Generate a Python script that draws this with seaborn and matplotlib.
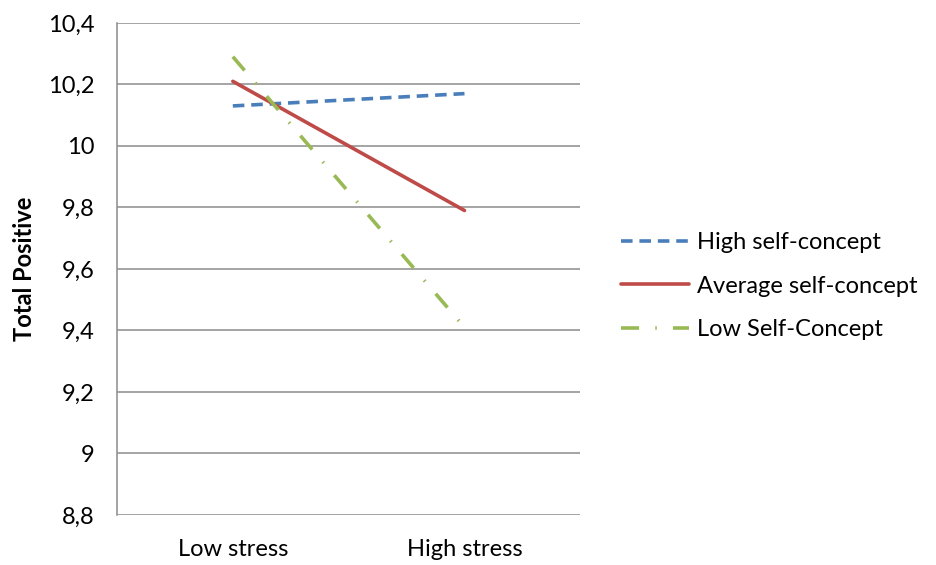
import matplotlib
matplotlib.use("Agg")
import matplotlib.pyplot as plt
import matplotlib.ticker as mticker
import pandas as pd
import seaborn as sns

conditions = ["Low stress", "High stress"]
groups = ["High self-concept", "Average self-concept", "Low Self-Concept"]
high_vals = [10.13, 10.17]
avg_vals = [10.21, 9.79]
low_vals = [10.29, 9.41]
y_ticks = [8.8, 9.0, 9.2, 9.4, 9.6, 9.8, 10.0, 10.2, 10.4]

df = pd.DataFrame({
    "Condition": conditions * 3,
    "Group": [groups[0]] * 2 + [groups[1]] * 2 + [groups[2]] * 2,
    "Total Positive": high_vals + avg_vals + low_vals,
})

sns.set_theme(style="white")
plt.rcParams["font.family"] = ["Lato", "DejaVu Sans"]

palette = {groups[0]: "#4A7EBB", groups[1]: "#BE4B48", groups[2]: "#98B954"}
dashes = {groups[0]: (3.2, 1.9), groups[1]: "", groups[2]: (5, 4.5, 0.4, 4.5)}

fig = plt.figure(figsize=(9.36, 5.65), dpi=100)
ax = fig.add_axes([0.125, 0.0885, 0.495, 0.871])

sns.lineplot(data=df, x="Condition", y="Total Positive", hue="Group",
             style="Group", palette=palette, dashes=dashes, hue_order=groups,
             style_order=groups, linewidth=2.6, sort=False, ax=ax)

ax.set_xlim(-0.5, 1.5)
ax.set_ylim(8.8, 10.4)
ax.set_yticks(y_ticks)
ax.yaxis.set_major_formatter(mticker.FuncFormatter(
    lambda v, p: ("%g" % round(v, 1)).replace(".", ",")))
ax.grid(axis="y", color="#8c8c8c", linewidth=1.1)
ax.set_axisbelow(True)
for s in ["top", "right", "bottom"]:
    ax.spines[s].set_visible(False)
ax.spines["left"].set_color("#8c8c8c")
ax.spines["left"].set_linewidth(1.1)
ax.tick_params(axis="both", length=0, labelsize=17, colors="#000000")
ax.tick_params(axis="y", pad=16)
ax.tick_params(axis="x", pad=17)
ax.set_xlabel("")
ax.set_ylabel("Total Positive", fontsize=17, fontweight="bold",
              color="#000000", labelpad=9)

ax.legend(loc="center left", bbox_to_anchor=(1.041, 0.465), frameon=False,
          fontsize=17, handlelength=2.9, handletextpad=0.35, labelspacing=0.95,
          labelcolor="#000000")

fig.savefig("out.png", dpi=100)
